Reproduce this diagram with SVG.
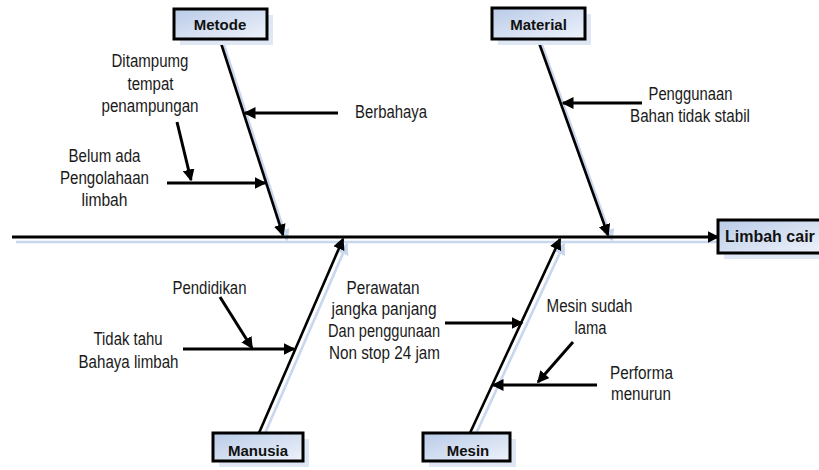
<svg xmlns="http://www.w3.org/2000/svg" width="819" height="470" viewBox="0 0 819 470">
<style>
.t{font-family:"Liberation Sans",Arial,sans-serif;font-size:17.5px;fill:#1a1a1a;text-anchor:middle}
.b{font-family:"Liberation Sans",Arial,sans-serif;font-size:15px;font-weight:bold;fill:#111;text-anchor:middle}
.box{fill:url(#g);stroke:#000;stroke-width:3}
.sh{fill:#dfe7f4}
.bone{stroke:#000;stroke-width:2.6;fill:none;marker-end:url(#ah)}
.bsh{stroke:#c8d6ee;stroke-width:2.6;fill:none;marker-end:url(#ahs)}
.arr{stroke:#000;stroke-width:3;fill:none;marker-end:url(#ah)}
</style>
<defs>
<linearGradient id="g" x1="0" y1="0" x2="1" y2="1">
<stop offset="0" stop-color="#b9cbe8"/>
<stop offset="1" stop-color="#eef2fa"/>
</linearGradient>
<marker id="ah" markerUnits="userSpaceOnUse" viewBox="0 0 12 12" markerWidth="12" markerHeight="12" refX="10.5" refY="6" orient="auto"><path d="M0,0 L12,6 L0,12 z" fill="#000"/></marker>
<marker id="ahs" markerUnits="userSpaceOnUse" viewBox="0 0 12 12" markerWidth="12" markerHeight="12" refX="10.5" refY="6" orient="auto"><path d="M0,0 L12,6 L0,12 z" fill="#c8d6ee"/></marker>
</defs>

<g id="connectors">
<g id="shadows" transform="translate(4,5)">
<line class="bsh" x1="12" y1="237" x2="718" y2="237" style="marker-end:none"/>
<line class="bsh" x1="220" y1="40" x2="283" y2="235"/>
<line class="bsh" x1="538" y1="40" x2="608" y2="235"/>
<line class="bsh" x1="259" y1="433" x2="343" y2="239"/>
<line class="bsh" x1="470" y1="433" x2="560" y2="239"/>
</g>
<line class="arr" x1="12" y1="237" x2="718" y2="237"/>
<line class="bone" x1="220" y1="40" x2="283" y2="235"/>
<line class="bone" x1="538" y1="40" x2="608" y2="235"/>
<line class="bone" x1="259" y1="433" x2="343" y2="239"/>
<line class="bone" x1="470" y1="433" x2="560" y2="239"/>
<line class="arr" x1="338" y1="113" x2="245" y2="113"/>
<line class="arr" x1="167" y1="183" x2="265" y2="183"/>
<line class="arr" x1="177" y1="122" x2="191" y2="180"/>
<line class="arr" x1="642" y1="103" x2="563" y2="103"/>
<line class="arr" x1="220" y1="297" x2="252" y2="348"/>
<line class="arr" x1="183" y1="349" x2="294" y2="349"/>
<line class="arr" x1="445" y1="323" x2="522" y2="323"/>
<line class="arr" x1="573" y1="342" x2="538" y2="382"/>
<line class="arr" x1="597" y1="385" x2="493" y2="385"/>
</g>

<g id="metode">
<rect class="sh" x="180" y="15" width="93" height="30"/>
<rect class="box" x="174" y="9" width="93" height="30"/>
<text class="b" x="220" y="30">Metode</text>
</g>
<g id="material">
<rect class="sh" x="498" y="14" width="93" height="31"/>
<rect class="box" x="492" y="8" width="93" height="31"/>
<text class="b" x="538.5" y="29.5">Material</text>
</g>
<g id="limbah-cair">
<rect class="sh" x="724" y="226" width="104" height="33"/>
<rect class="box" x="718" y="220" width="104" height="33"/>
<text class="b" x="725" y="241.5" style="text-anchor:start;font-size:16px">Limbah cair</text>
</g>
<g id="manusia">
<rect class="sh" x="219" y="439" width="90" height="28"/>
<rect class="box" x="213" y="433" width="90" height="28"/>
<text class="b" x="258" y="456">Manusia</text>
</g>
<g id="mesin">
<rect class="sh" x="429" y="439" width="87" height="28"/>
<rect class="box" x="423" y="433" width="87" height="28"/>
<text class="b" x="468" y="456">Mesin</text>
</g>

<g id="ditampumg">
<text class="t" x="150" y="67" textLength="77" lengthAdjust="spacingAndGlyphs">Ditampumg</text>
<text class="t" x="150.5" y="89.5" textLength="46" lengthAdjust="spacingAndGlyphs">tempat</text>
<text class="t" x="150" y="111.5" textLength="97" lengthAdjust="spacingAndGlyphs">penampungan</text>
</g>
<g id="belum-ada">
<text class="t" x="104.5" y="161.5" textLength="72" lengthAdjust="spacingAndGlyphs">Belum ada</text>
<text class="t" x="104.5" y="183.5" textLength="89" lengthAdjust="spacingAndGlyphs">Pengolahaan</text>
<text class="t" x="104.5" y="205.5" textLength="46" lengthAdjust="spacingAndGlyphs">limbah</text>
</g>
<g id="berbahaya">
<text class="t" x="391" y="117.5" textLength="72" lengthAdjust="spacingAndGlyphs">Berbahaya</text>
</g>
<g id="penggunaan">
<text class="t" x="690.5" y="100" textLength="84" lengthAdjust="spacingAndGlyphs">Penggunaan</text>
<text class="t" x="690" y="121.5" textLength="120" lengthAdjust="spacingAndGlyphs">Bahan tidak stabil</text>
</g>
<g id="pendidikan">
<text class="t" x="209.5" y="293.5" textLength="74" lengthAdjust="spacingAndGlyphs">Pendidikan</text>
</g>
<g id="tidak-tahu">
<text class="t" x="128" y="345" textLength="69" lengthAdjust="spacingAndGlyphs">Tidak tahu</text>
<text class="t" x="128.5" y="367.5" textLength="100" lengthAdjust="spacingAndGlyphs">Bahaya limbah</text>
</g>
<g id="perawatan">
<text class="t" x="383" y="293.5" textLength="73" lengthAdjust="spacingAndGlyphs">Perawatan</text>
<text class="t" x="384" y="315" textLength="105" lengthAdjust="spacingAndGlyphs">jangka panjang</text>
<text class="t" x="384" y="336.5" textLength="112" lengthAdjust="spacingAndGlyphs">Dan penggunaan</text>
<text class="t" x="384.5" y="358.5" textLength="111" lengthAdjust="spacingAndGlyphs">Non stop 24 jam</text>
</g>
<g id="mesin-sudah-lama">
<text class="t" x="589.5" y="311.5" textLength="86" lengthAdjust="spacingAndGlyphs">Mesin sudah</text>
<text class="t" x="590.5" y="333.5" textLength="32" lengthAdjust="spacingAndGlyphs">lama</text>
</g>
<g id="performa">
<text class="t" x="641.5" y="379" textLength="63" lengthAdjust="spacingAndGlyphs">Performa</text>
<text class="t" x="641" y="400" textLength="60" lengthAdjust="spacingAndGlyphs">menurun</text>
</g>
</svg>
